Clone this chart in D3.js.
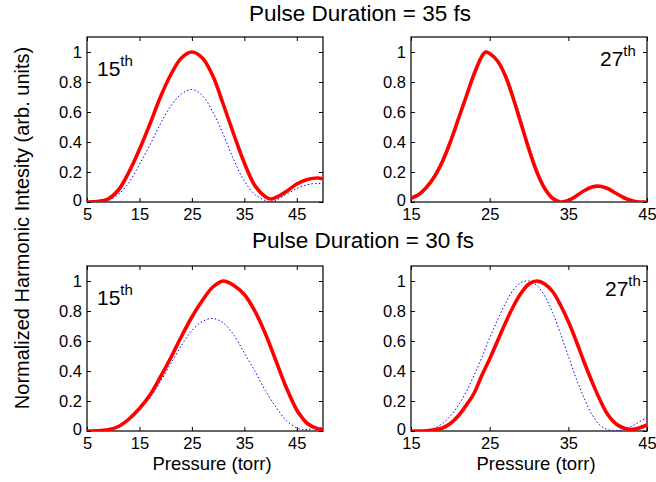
<!DOCTYPE html>
<html>
<head>
<meta charset="utf-8">
<script src="https://cdn.jsdelivr.net/npm/d3@7"></script>
<style>
  html, body { margin: 0; padding: 0; background: #fff; }
  svg { display: block; font-family: "Liberation Sans", Arial, Helvetica, sans-serif; }
</style>
</head>
<body>
<svg id="chart" width="656" height="482"></svg>
<script>
// Harmonic yield vs gas pressure, 15th and 27th harmonics, two pulse durations.
// Solid red = one model, dotted blue = the other.

// ---- 35 fs, 15th harmonic (pressure 5..50 torr)
const p35_15 = [5, 7, 9, 11, 13, 15, 17, 19, 21, 23, 25, 27, 29, 31, 33, 35, 37, 39, 40, 41, 43, 45, 47, 49, 50];
const red35_15 = [0, 0.003, 0.02, 0.08, 0.2, 0.35, 0.52, 0.7, 0.85, 0.96, 1.0, 0.96, 0.84, 0.65, 0.45, 0.26, 0.11, 0.035, 0.02, 0.03, 0.07, 0.12, 0.15, 0.16, 0.155];
const blue35_15 = [0, 0.002, 0.01, 0.05, 0.13, 0.25, 0.38, 0.52, 0.64, 0.72, 0.75, 0.71, 0.6, 0.45, 0.28, 0.14, 0.05, 0.01, 0.0, 0.01, 0.05, 0.09, 0.115, 0.125, 0.12];

// ---- 35 fs, 27th harmonic (pressure 15..45 torr)
const p35_27 = [15, 16, 17, 18, 19, 20, 21, 22, 23, 24, 24.5, 25, 26, 27, 28, 29, 30, 31, 32, 33, 34, 35, 36, 37, 38, 39, 40, 41, 42, 43, 44, 45];
const red35_27 = [0.025, 0.05, 0.1, 0.17, 0.27, 0.4, 0.55, 0.7, 0.85, 0.97, 1.0, 0.99, 0.94, 0.84, 0.69, 0.52, 0.35, 0.2, 0.09, 0.025, 0.0, 0.01, 0.04, 0.075, 0.1, 0.105, 0.09, 0.06, 0.03, 0.01, 0.0, 0.0];
const blue35_27 = [0.03, 0.06, 0.11, 0.19, 0.29, 0.42, 0.57, 0.72, 0.86, 0.965, 0.995, 0.995, 0.95, 0.86, 0.72, 0.55, 0.38, 0.22, 0.1, 0.03, 0.0, 0.01, 0.04, 0.075, 0.1, 0.105, 0.095, 0.065, 0.035, 0.012, 0.002, 0.0];

// ---- 30 fs, 15th harmonic (pressure 5..50 torr)
const p30_15 = [5, 7, 9, 11, 13, 15, 17, 19, 21, 23, 25, 27, 29, 31, 33, 35, 37, 39, 41, 43, 45, 46, 47, 49, 50];
const red30_15 = [0, 0.001, 0.008, 0.03, 0.08, 0.15, 0.24, 0.36, 0.49, 0.63, 0.76, 0.87, 0.96, 1.0, 0.97, 0.91, 0.8, 0.65, 0.47, 0.29, 0.14, 0.09, 0.05, 0.015, 0.01];
const blue30_15 = [0, 0.001, 0.007, 0.028, 0.07, 0.14, 0.22, 0.33, 0.45, 0.57, 0.67, 0.73, 0.75, 0.72, 0.64, 0.52, 0.4, 0.27, 0.16, 0.07, 0.02, 0.01, 0.01, 0.02, 0.02];

// ---- 30 fs, 27th harmonic (pressure 15..45 torr)
const p30_27 = [15, 16, 17, 18, 19, 20, 21, 22, 23, 24, 25, 26, 27, 28, 29, 30, 31, 32, 33, 34, 35, 36, 37, 38, 39, 40, 41, 42, 43, 44, 45];
const red30_27 = [0, 0, 0.002, 0.008, 0.02, 0.05, 0.1, 0.17, 0.25, 0.37, 0.48, 0.6, 0.72, 0.83, 0.92, 0.98, 1.0, 0.98, 0.93, 0.84, 0.73, 0.6, 0.46, 0.33, 0.21, 0.11, 0.05, 0.02, 0.01, 0.02, 0.04];
const blue30_27 = [0, 0.001, 0.005, 0.02, 0.05, 0.1, 0.17, 0.26, 0.37, 0.49, 0.62, 0.74, 0.85, 0.94, 0.99, 1.0, 0.97, 0.9, 0.79, 0.65, 0.5, 0.35, 0.22, 0.11, 0.04, 0.01, 0.0, 0.01, 0.03, 0.06, 0.09];

// Tick labels
const xTicksWide = [5, 15, 25, 35, 45];
const xTicksNarrow = [15, 25, 35, 45];
const yTicks = [0, 0.2, 0.4, 0.6, 0.8, 1];

const titles = ["Pulse Duration = 35 fs", "Pulse Duration = 30 fs"];
const harmonicOrders = ["15", "27"];
const yLabel = "Normalized Harmonic Intesity (arb. units)";
const xLabel = "Pressure (torr)";

const panels = [
  { x: p35_15, red: red35_15, blue: blue35_15, domain: [5, 50], ticks: xTicksWide, order: harmonicOrders[0],
    left: 87, top: 37, labelAt: [97, 76] },
  { x: p35_27, red: red35_27, blue: blue35_27, domain: [15, 45], ticks: xTicksNarrow, order: harmonicOrders[1],
    left: 411, top: 37, labelAt: [600, 66] },
  { x: p30_15, red: red30_15, blue: blue30_15, domain: [5, 50], ticks: xTicksWide, order: harmonicOrders[0],
    left: 87, top: 266, labelAt: [97, 305] },
  { x: p30_27, red: red30_27, blue: blue30_27, domain: [15, 45], ticks: xTicksNarrow, order: harmonicOrders[1],
    left: 411, top: 266, labelAt: [605, 296] }
];

const W = 236, H = 165, TICK = 4;
const svg = d3.select("#chart");

panels.forEach((p, i) => {
  const g = svg.append("g").attr("transform", `translate(${p.left},${p.top})`);
  const x = d3.scaleLinear().domain(p.domain).range([0, W]);
  const y = d3.scaleLinear().domain([0, 1.1]).range([H, 0]);

  const clipId = "clip" + i;
  g.append("clipPath").attr("id", clipId)
    .append("rect").attr("x", 0).attr("y", 0).attr("width", W).attr("height", H);

  // Axes with inward ticks on all four sides
  const fmtY = d => (d === 0 ? "0" : d === 1 ? "1" : String(d));
  const bottom = g.append("g").attr("transform", `translate(0,${H})`)
    .call(d3.axisBottom(x).tickValues(p.ticks).tickSizeInner(-TICK).tickSizeOuter(0).tickPadding(6).tickFormat(d3.format("d")));
  const leftAx = g.append("g")
    .call(d3.axisLeft(y).tickValues(yTicks).tickSizeInner(-TICK).tickSizeOuter(0).tickPadding(5).tickFormat(fmtY));
  const topAx = g.append("g")
    .call(d3.axisTop(x).tickValues(p.ticks).tickSizeInner(-TICK).tickSizeOuter(0).tickFormat(""));
  const rightAx = g.append("g").attr("transform", `translate(${W},0)`)
    .call(d3.axisRight(y).tickValues(yTicks).tickSizeInner(-TICK).tickSizeOuter(0).tickFormat(""));

  [bottom, leftAx, topAx, rightAx].forEach(a => {
    a.select(".domain").remove();
    a.selectAll("line").attr("stroke", "#000").attr("stroke-width", 1);
    a.selectAll("text").attr("fill", "#000").style("font-size", "16.5px")
      .style("font-family", "'Liberation Sans', Arial, sans-serif");
  });
  bottom.selectAll("text").attr("dy", "0.74em");
  // the "0" label sits a touch above its tick so it clears the first x label
  leftAx.selectAll("text").filter(d => d === 0).attr("dy", "0.2em");

  // Frame
  g.append("rect").attr("x", 0).attr("y", 0).attr("width", W).attr("height", H)
    .attr("fill", "none").attr("stroke", "#000").attr("stroke-width", 1.2);

  const line = d3.line().x((d, k) => x(p.x[k])).y(d => y(d)).curve(d3.curveCatmullRom.alpha(0.5));

  const plot = g.append("g").attr("clip-path", `url(#${clipId})`);
  plot.append("path").datum(p.blue).attr("d", line)
    .attr("fill", "none").attr("stroke", "#0000ff").attr("stroke-width", 1)
    .attr("stroke-dasharray", "1.5,2.2");
  plot.append("path").datum(p.red).attr("d", line)
    .attr("fill", "none").attr("stroke", "#ff0000").attr("stroke-width", 3.6)
    .attr("stroke-linejoin", "round");

  // Harmonic order label
  const lbl = svg.append("text").attr("x", p.labelAt[0]).attr("y", p.labelAt[1])
    .attr("fill", "#000").style("font-size", "21px");
  lbl.append("tspan").text(p.order);
  lbl.append("tspan").attr("dy", -10).style("font-size", "15px").text("th");

  // Pressure label under bottom row
  if (i >= 2) {
    svg.append("text").attr("x", p.left + W / 2 + 7).attr("y", p.top + H + 39)
      .attr("text-anchor", "middle").attr("fill", "#000").style("font-size", "18.5px").text(xLabel);
  }
});

// Row titles
svg.append("text").attr("x", 360).attr("y", 21).attr("text-anchor", "middle")
  .attr("fill", "#000").style("font-size", "22.5px").text(titles[0]);
svg.append("text").attr("x", 363).attr("y", 248).attr("text-anchor", "middle")
  .attr("fill", "#000").style("font-size", "22.5px").text(titles[1]);

// Shared y-axis label
svg.append("text").attr("transform", "translate(29,228) rotate(-90)")
  .attr("text-anchor", "middle").attr("fill", "#000").style("font-size", "20px").text(yLabel);
</script>
</body>
</html>
